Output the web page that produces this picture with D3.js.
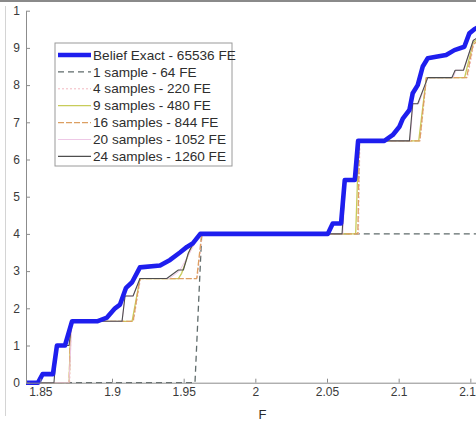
<!DOCTYPE html>
<html>
<head>
<meta charset="utf-8">
<script src="https://cdn.jsdelivr.net/npm/d3@7"></script>
<style>
  html, body { margin: 0; padding: 0; background: #fff; }
  svg { display: block; font-family: "Liberation Sans", Arial, sans-serif; }
</style>
</head>
<body>
<div id="chart"></div>
<script>
// values (F on x, belief on y)
var xTicks = [1.85, 1.9, 1.95, 2, 2.05, 2.1, 2.15];
var xTickLabels = ["1.85", "1.9", "1.95", "2", "2.05", "2.1", "2.15"];
var yTicks = [0, 1, 2, 3, 4, 5, 6, 7, 8, 9, 10];
var yTickLabels = ["0", "1", "2", "3", "4", "5", "6", "7", "8", "9", "1"];

var exactF = [1.840, 1.8484, 1.8516, 1.8588, 1.8616, 1.8672, 1.8721, 1.8896, 1.8965, 1.9021, 1.9056, 1.9098, 1.9140, 1.9195, 1.9335, 1.9405, 1.9474, 1.9523, 1.9565, 1.9616,
              2.0505, 2.054, 2.0598, 2.0624, 2.0694, 2.0717, 2.0900, 2.0959, 2.1005, 2.1029, 2.1075, 2.1098, 2.1133, 2.1168, 2.1203, 2.1261, 2.1331, 2.1389, 2.1458, 2.1493, 2.1528, 2.16];
var exactV = [0, 0, 0.23, 0.23, 1.0, 1.0, 1.65, 1.65, 1.75, 2.0, 2.1, 2.55, 2.7, 3.1, 3.15, 3.3, 3.5, 3.65, 3.75, 4.0,
              4.0, 4.28, 4.28, 5.45, 5.45, 6.5, 6.5, 6.66, 6.88, 7.1, 7.33, 7.78, 8.0, 8.5, 8.72, 8.76, 8.81, 8.94, 9.03, 9.39, 9.5, 9.65];

var s1F = [1.84, 1.9579, 1.9626, 2.17];
var s1V = [0, 0, 4, 4];

var s4F = [1.84, 1.8705, 1.8716, 1.9150, 1.9200, 1.9595, 1.9630, 2.0720, 2.0730, 2.1150, 2.1195, 2.1480, 2.1525, 2.16];
var s4V = [0, 0, 1.65, 1.65, 2.8, 2.8, 4.0, 4.0, 6.5, 6.5, 8.2, 8.2, 9.1, 9.3];

var s9F = [1.84, 1.8701, 1.8712, 1.9140, 1.9195, 1.9463, 1.9486, 1.9544, 1.9614, 2.0700, 2.0722, 2.1140, 2.1193, 2.1460, 2.1520, 2.16];
var s9V = [0, 0, 1.65, 1.65, 2.8, 2.8, 2.94, 3.57, 4.0, 4.0, 6.5, 6.5, 8.2, 8.2, 9.15, 9.35];

var s16F = [1.84, 1.8701, 1.8712, 1.9147, 1.9195, 1.9591, 1.9626, 2.0715, 2.0726, 2.1147, 2.1193, 2.1474, 2.1520, 2.16];
var s16V = [0, 0, 1.65, 1.65, 2.8, 2.8, 4.0, 4.0, 6.5, 6.5, 8.2, 8.2, 9.1, 9.3];

var s20F = [1.84, 1.8700, 1.8721, 1.9070, 1.9091, 1.9147, 1.9195, 1.9400, 1.9470, 1.9530, 1.9614, 2.0610, 2.0630, 2.0705, 2.0728, 2.1080, 2.1100, 2.1140, 2.1203, 2.1380, 2.1400, 2.1455, 2.1520, 2.16];
var s20V = [0, 0, 1.65, 1.65, 2.33, 2.33, 2.8, 2.8, 3.0, 3.4, 4.0, 4.0, 5.45, 5.45, 6.5, 6.5, 7.5, 7.5, 8.2, 8.2, 8.4, 8.4, 9.2, 9.4];

var s24F = [1.84, 1.8595, 1.8616, 1.8700, 1.8721, 1.9070, 1.9091, 1.9147, 1.9195, 1.9382, 1.9463, 1.9498, 1.9532, 1.9579, 1.9614,
            2.0605, 2.0628, 2.0705, 2.0728, 2.1075, 2.1098, 2.1133, 2.1203, 2.1371, 2.1394, 2.1452, 2.1520, 2.16];
var s24V = [0, 0, 1.0, 1.0, 1.65, 1.65, 2.33, 2.33, 2.8, 2.8, 3.03, 3.03, 3.48, 3.84, 4.0,
            4.0, 5.45, 5.45, 6.5, 6.5, 7.5, 7.5, 8.2, 8.2, 8.4, 8.4, 9.2, 9.4];

var seriesNames = ["Belief Exact - 65536 FE", "1 sample - 64 FE", "4 samples - 220 FE", "9 samples - 480 FE",
                   "16 samples - 844 FE", "20 samples - 1052 FE", "24 samples - 1260 FE"];

var series = [
  {name: seriesNames[0], f: exactF, v: exactV, color: "#1e1eee", width: 4.6, dash: null},
  {name: seriesNames[1], f: s1F, v: s1V, color: "#5f6b6b", width: 1.3, dash: "6,4"},
  {name: seriesNames[2], f: s4F, v: s4V, color: "#f2b8c0", width: 1, dash: "2,2"},
  {name: seriesNames[3], f: s9F, v: s9V, color: "#c8cc5a", width: 1.3, dash: null},
  {name: seriesNames[4], f: s16F, v: s16V, color: "#dc9f62", width: 1.3, dash: "6,2"},
  {name: seriesNames[5], f: s20F, v: s20V, color: "#eec8e6", width: 1, dash: null},
  {name: seriesNames[6], f: s24F, v: s24V, color: "#4e4e4e", width: 1.1, dash: null}
];

var W = 476, H = 422;

var svg = d3.select("#chart").append("svg")
  .attr("width", W)
  .attr("height", H);

// frame pieces from the cropped figure
svg.append("line").attr("x1", 0).attr("x2", W).attr("y1", 1).attr("y2", 1)
  .style("stroke", "#8a8a8a").style("stroke-width", 2);
svg.append("line").attr("x1", 5.5).attr("x2", 5.5).attr("y1", 6).attr("y2", 416)
  .style("stroke", "#d4d4d4").style("stroke-width", 1);

var x = d3.scaleLinear().domain([1.84, 2.17]).range([26, 499]);
var y = d3.scaleLinear().domain([0, 10]).range([382.7, 10.7]);

var line = d3.line()
  .x(function(d) { return x(d[0]); })
  .y(function(d) { return y(d[1]); });

// sample curves first, exact belief on top
var drawOrder = [1, 2, 3, 4, 5, 6, 0];
drawOrder.forEach(function(i) {
  var s = series[i];
  var pts = s.f.map(function(f, k) { return [f, s.v[k]]; });
  svg.append("path")
    .datum(pts)
    .attr("d", line)
    .style("fill", "none")
    .style("stroke", s.color)
    .style("stroke-width", s.width)
    .style("stroke-linejoin", "round")
    .style("stroke-dasharray", s.dash);
});

// axes
var xAxis = d3.axisBottom(x)
  .tickValues(xTicks)
  .tickFormat(function(d, i) { return xTickLabels[i]; })
  .tickSizeInner(-4).tickSizeOuter(0).tickPadding(5);
var gx = svg.append("g").attr("transform", "translate(0," + y(0) + ")").call(xAxis);

var yAxis = d3.axisLeft(y)
  .tickValues(yTicks)
  .tickFormat(function(d, i) { return yTickLabels[i]; })
  .tickSizeInner(-4).tickSizeOuter(0).tickPadding(6);
var gy = svg.append("g").attr("transform", "translate(" + x(1.84) + ",0)").call(yAxis);

[gx, gy].forEach(function(g) {
  g.select(".domain").style("stroke", "#8c8c8c");
  g.selectAll(".tick line").style("stroke", "#8c8c8c");
  g.selectAll("text").style("fill", "#3a3a3a").style("font-size", "12px")
    .style("font-family", "'Liberation Sans', Arial, sans-serif");
});

svg.append("text")
  .attr("x", (x.range()[0] + x.range()[1]) / 2)
  .attr("y", 419)
  .attr("text-anchor", "middle")
  .style("font-size", "13px")
  .style("fill", "#2a2a2a")
  .text("F");

// legend
var lg = svg.append("g").attr("transform", "translate(55,43)");
lg.append("rect")
  .attr("x", 0).attr("y", 0).attr("width", 177).attr("height", 123)
  .style("fill", "#fff").style("stroke", "#9a9a9a").style("stroke-width", 1);

series.forEach(function(s, i) {
  var ry = 12 + i * 16.9;
  lg.append("line")
    .attr("x1", 3).attr("x2", 36).attr("y1", ry).attr("y2", ry)
    .style("stroke", s.color)
    .style("stroke-width", s.width)
    .style("stroke-dasharray", s.dash);
  lg.append("text")
    .attr("x", 38).attr("y", ry + 4.6)
    .style("font-size", "13.6px")
    .style("fill", "#2e2e2e")
    .text(s.name);
});
</script>
</body>
</html>
